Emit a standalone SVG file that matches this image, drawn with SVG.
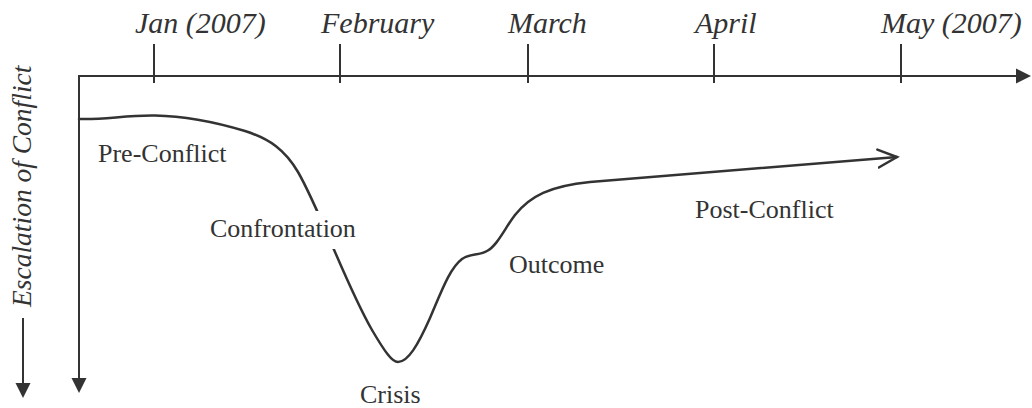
<svg xmlns="http://www.w3.org/2000/svg" width="1032" height="408" viewBox="0 0 1032 408">
  <style>
    .axis { stroke: #333; stroke-width: 2; fill: none; }
    .tick { stroke: #333; stroke-width: 2; }
    .curve { stroke: #333; stroke-width: 2.5; fill: none; stroke-linecap: round; stroke-linejoin: round; }
    .month { font-family: "Liberation Serif", "Times New Roman", serif; font-style: italic; font-size: 30px; fill: #333; }
    .phase { font-family: "Liberation Serif", "Times New Roman", serif; font-size: 26px; fill: #333; }
    .ylabel { font-family: "Liberation Serif", "Times New Roman", serif; font-style: italic; font-size: 27.5px; fill: #333; }
  </style>
  <defs>
    <marker id="openHead" markerUnits="userSpaceOnUse" markerWidth="24" markerHeight="24" refX="20" refY="10" orient="auto" viewBox="0 0 24 20">
      <path d="M1,1 L20,10 L1,19" fill="none" stroke="#333" stroke-width="2.5" stroke-linecap="round" stroke-linejoin="miter"/>
    </marker>
  </defs>

  <rect width="1032" height="408" fill="#ffffff"/>

  <!-- time axis and escalation axis -->
  <g id="axes">
    <line class="axis" x1="79" y1="76" x2="1018" y2="76"/>
    <polygon points="1031,76 1016,68.5 1016,83.5" fill="#333"/>
    <line class="axis" x1="79" y1="75" x2="79" y2="380"/>
    <polygon points="79,393 71.5,378 86.5,378" fill="#333"/>
  </g>

  <!-- month ticks and labels -->
  <g id="months">
    <line class="tick" x1="154" y1="44" x2="154" y2="83"/>
    <line class="tick" x1="340" y1="44" x2="340" y2="83"/>
    <line class="tick" x1="528" y1="44" x2="528" y2="83"/>
    <line class="tick" x1="714" y1="44" x2="714" y2="83"/>
    <line class="tick" x1="901" y1="44" x2="901" y2="83"/>
    <text class="month" x="135" y="33">Jan (2007)</text>
    <text class="month" x="321" y="33">February</text>
    <text class="month" x="508" y="33">March</text>
    <text class="month" x="695" y="33">April</text>
    <text class="month" x="881" y="33">May (2007)</text>
  </g>

  <!-- vertical axis caption with its arrow -->
  <g id="escalation-label">
    <text class="ylabel" transform="translate(31,307) rotate(-90)">Escalation of Conflict</text>
    <line class="axis" x1="23" y1="318" x2="23" y2="386"/>
    <polygon points="23,398 15.5,383 30.5,383" fill="#333"/>
  </g>

  <!-- conflict curve -->
  <g id="connectors">
    <path class="curve" marker-end="url(#openHead)" d="M79,119 C105,120 125,115 155,115.5 C185,116 215,122 245,131 C270,139 285,150 298,172 C320,210 345,283 372,330 C385,352 392,362 398,362 C408,362 418,345 430,318 C442,290 450,268 462,259 C470,253 478,256 487,251 C497,246 505,228 515,215 C530,196 550,186 590,182 L897,157"/>
  </g>

  <!-- phase labels -->
  <g id="pre-conflict"><text class="phase" x="98" y="162">Pre-Conflict</text></g>
  <g id="confrontation">
    <rect x="206" y="211" width="152" height="38" fill="#ffffff"/>
    <text class="phase" x="210" y="237">Confrontation</text>
  </g>
  <g id="crisis"><text class="phase" x="360" y="403">Crisis</text></g>
  <g id="outcome"><text class="phase" x="509" y="273">Outcome</text></g>
  <g id="post-conflict"><text class="phase" x="695" y="218">Post-Conflict</text></g>
</svg>
